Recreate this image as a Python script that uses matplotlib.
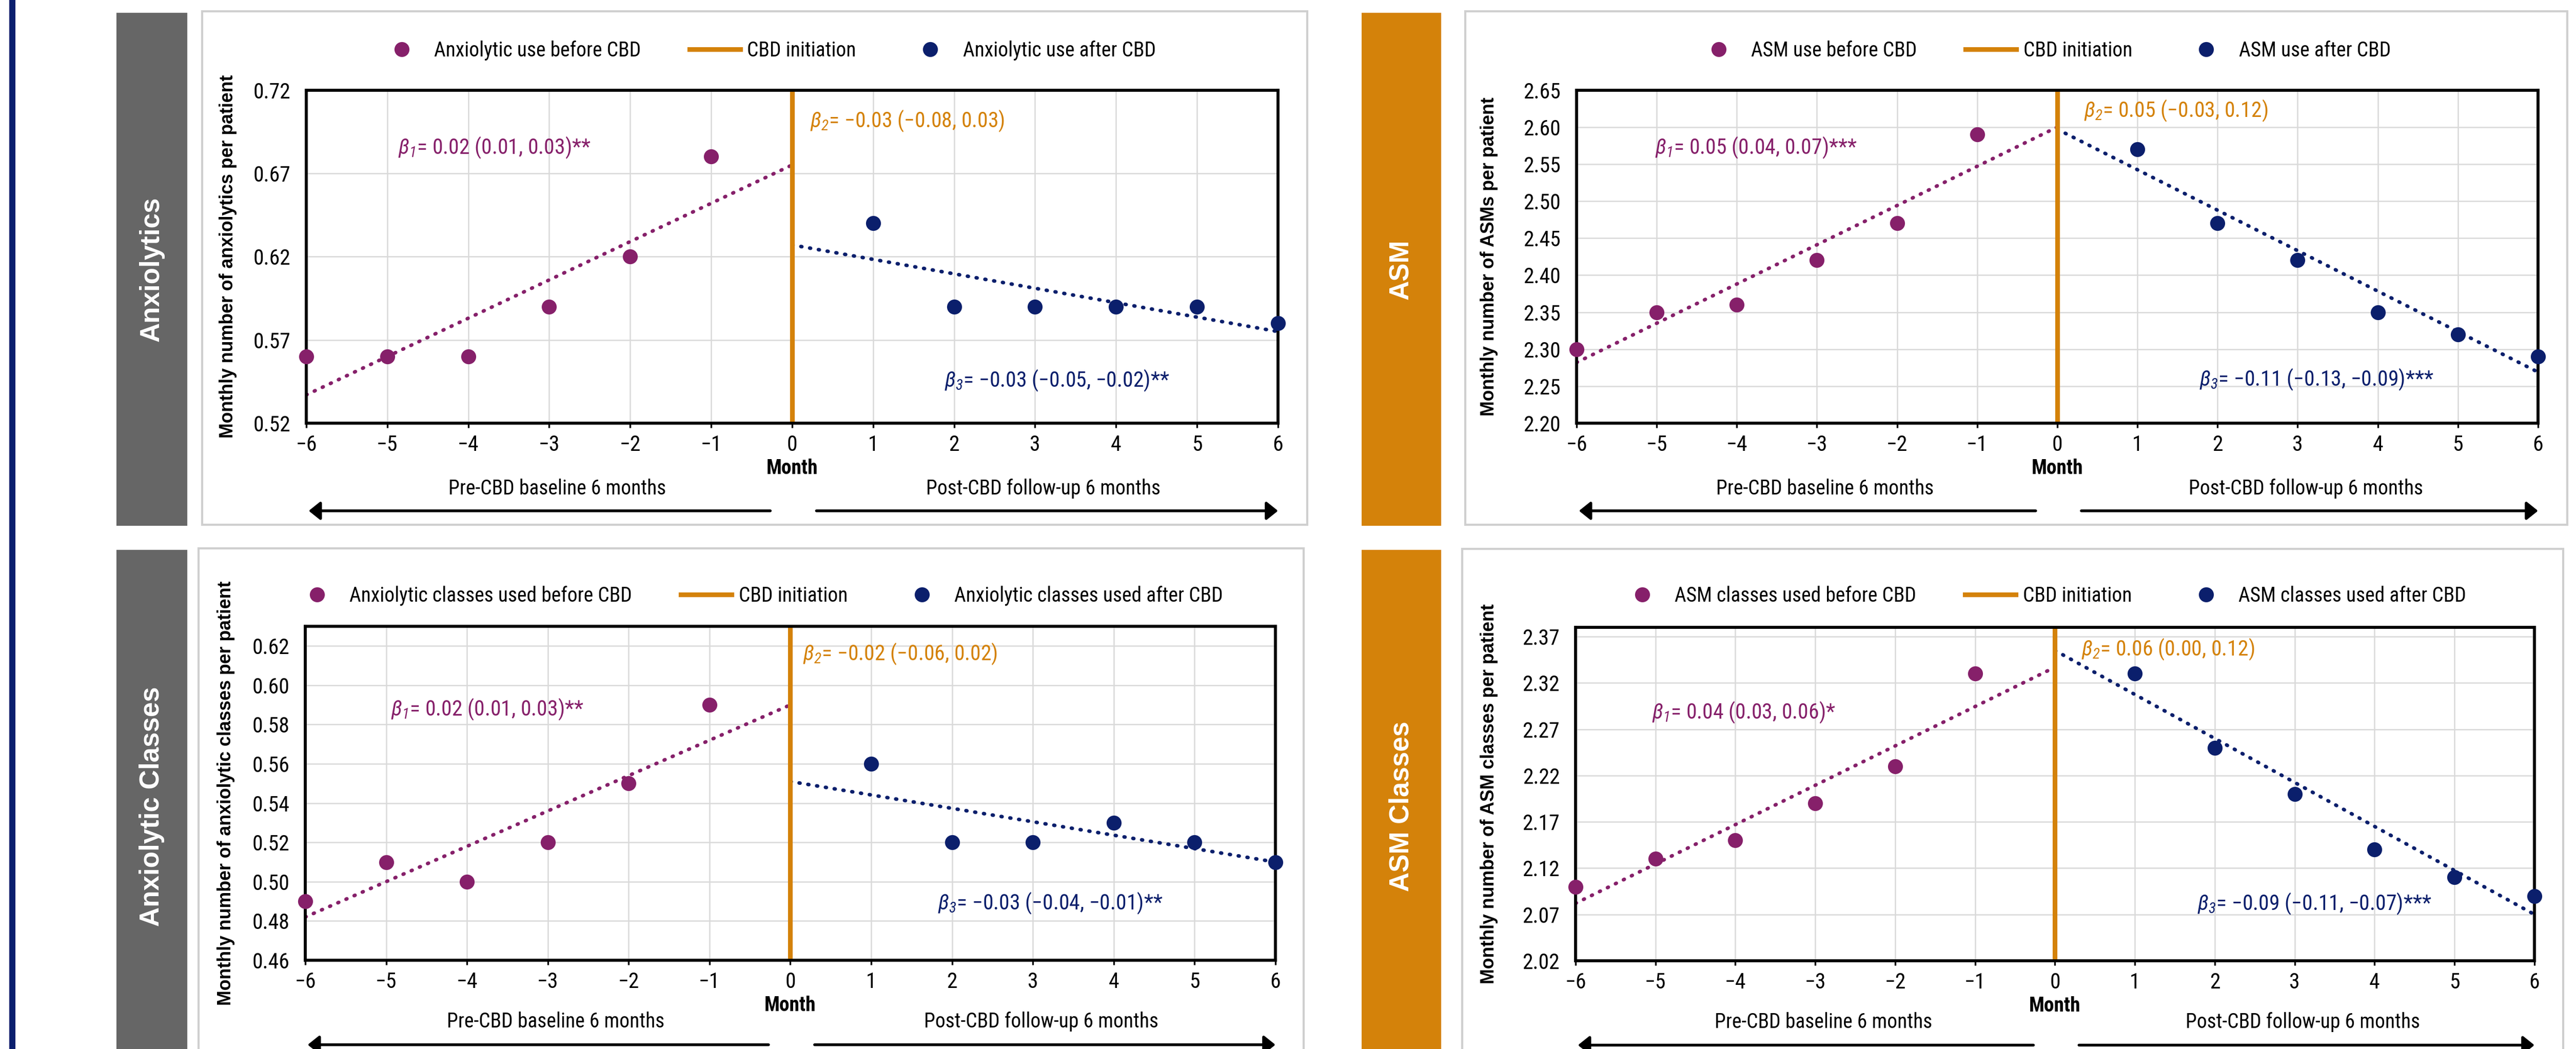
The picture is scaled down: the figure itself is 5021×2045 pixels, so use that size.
import matplotlib
matplotlib.use("Agg")
import matplotlib.pyplot as plt
from matplotlib import font_manager
from matplotlib.patches import Rectangle
from matplotlib.ticker import FormatStrFormatter

W, H = 5022, 2045
DPI = 300

# fonts: a narrow face for most text, an Arial-like bold for box titles / y labels
names = {f.name for f in font_manager.fontManager.ttflist}
NARROW, STRETCH, S = "DejaVu Sans", "condensed", 0.87
for fam, sc in [("Liberation Sans Narrow", 1.0), ("Arial Narrow", 1.0), ("Roboto Condensed", 0.93),
                ("Noto Sans Condensed", 0.92), ("Open Sans Condensed", 0.95)]:
    if fam in names:
        NARROW, STRETCH, S = fam, "normal", sc
        break
MATH_IT = NARROW + ":style=italic:stretch=" + STRETCH
WIDE = "Liberation Sans" if "Liberation Sans" in names else "DejaVu Sans"

plt.rcParams["font.family"] = NARROW
plt.rcParams["font.stretch"] = STRETCH
plt.rcParams["mathtext.fontset"] = "custom"
plt.rcParams["mathtext.it"] = MATH_IT
plt.rcParams["mathtext.rm"] = MATH_IT
plt.rcParams["axes.unicode_minus"] = True

FS_TICK = 10.8 * S
FS_TEXT = 10.2 * S
FS_BETA = 10.8 * S

PURPLE = "#86206A"
NAVY = "#0B1F6C"
ORANGE = "#D4820A"
GREY_BOX = "#666666"
GRID = "#d9d9d9"
MINUS = "\u2212"

# ---------------- data ----------------
months = [-6, -5, -4, -3, -2, -1, 0, 1, 2, 3, 4, 5, 6]
months_before = [-6, -5, -4, -3, -2, -1]
months_after = [1, 2, 3, 4, 5, 6]
trend_x_pre = [-6, 0]
trend_x_post = [0, 6]

# Anxiolytics
anx_before = [0.56, 0.56, 0.56, 0.59, 0.62, 0.68]
anx_after = [0.64, 0.59, 0.59, 0.59, 0.59, 0.58]
anx_trend_pre = [0.537, 0.675]
anx_trend_post = [0.627, 0.575]
anx_ylim = (0.52, 0.72)
anx_yticks = [0.52, 0.57, 0.62, 0.67, 0.72]

# ASM
asm_before = [2.30, 2.35, 2.36, 2.42, 2.47, 2.59]
asm_after = [2.57, 2.47, 2.42, 2.35, 2.32, 2.29]
asm_trend_pre = [2.282, 2.600]
asm_trend_post = [2.597, 2.269]
asm_ylim = (2.20, 2.65)
asm_yticks = [2.20, 2.25, 2.30, 2.35, 2.40, 2.45, 2.50, 2.55, 2.60, 2.65]

# Anxiolytic classes
anxc_before = [0.49, 0.51, 0.50, 0.52, 0.55, 0.59]
anxc_after = [0.56, 0.52, 0.52, 0.53, 0.52, 0.51]
anxc_trend_pre = [0.482, 0.590]
anxc_trend_post = [0.551, 0.510]
anxc_ylim = (0.46, 0.63)
anxc_yticks = [0.46, 0.48, 0.50, 0.52, 0.54, 0.56, 0.58, 0.60, 0.62]

# ASM classes
asmc_before = [2.10, 2.13, 2.15, 2.19, 2.23, 2.33]
asmc_after = [2.33, 2.25, 2.20, 2.14, 2.11, 2.09]
asmc_trend_pre = [2.082, 2.337]
asmc_trend_post = [2.355, 2.070]
asmc_ylim = (2.02, 2.38)
asmc_yticks = [2.02, 2.07, 2.12, 2.17, 2.22, 2.27, 2.32, 2.37]

# ---------------- layout (pixels) ----------------
panels = [
    dict(name="Anxiolytics", box_color=GREY_BOX, box=(227, 25, 365, 1025), frame=(394, 22, 2548, 1023),
         ax=(597, 175.5, 2491, 825), ylab_x=445, name_y=525,
         ylabel="Monthly number of anxiolytics per patient",
         leg=["Anxiolytic use before CBD", "CBD initiation", "Anxiolytic use after CBD"], leg_pos=(0.473, 1.119),
         before=anx_before, after=anx_after, pre=anx_trend_pre, post=anx_trend_post,
         ylim=anx_ylim, yticks=anx_yticks,
         b1=("0.02 (0.01, 0.03)**", 0.0945, 0.827),
         b2=(MINUS + "0.03 (" + MINUS + "0.08, 0.03)", 0.5185, 0.907),
         b3=(MINUS + "0.03 (" + MINUS + "0.05, " + MINUS + "0.02)**", 0.657, 0.128),
         row_y=(-0.197, -0.263)),
    dict(name="ASM", box_color=ORANGE, box=(2654, 25, 2809, 1025), frame=(2856, 22, 5004, 1023),
         ax=(3073, 175.5, 4947, 825), ylab_x=2903, name_y=525,
         ylabel="Monthly number of ASMs per patient",
         leg=["ASM use before CBD", "CBD initiation", "ASM use after CBD"], leg_pos=(0.484, 1.119),
         before=asm_before, after=asm_after, pre=asm_trend_pre, post=asm_trend_post,
         ylim=asm_ylim, yticks=asm_yticks,
         b1=("0.05 (0.04, 0.07)***", 0.0816, 0.827),
         b2=("0.05 (" + MINUS + "0.03, 0.12)", 0.528, 0.938),
         b3=(MINUS + "0.11 (" + MINUS + "0.13, " + MINUS + "0.09)***", 0.648, 0.131),
         row_y=(-0.197, -0.263)),
    dict(name="Anxiolytic Classes", box_color=GREY_BOX, box=(227, 1072, 365, 2100), frame=(387, 1069, 2541, 2100),
         ax=(595, 1221, 2486, 1872), ylab_x=441, name_y=1572,
         ylabel="Monthly number of anxiolytic classes per patient",
         leg=["Anxiolytic classes used before CBD", "CBD initiation", "Anxiolytic classes used after CBD"],
         leg_pos=(0.466, 1.092),
         before=anxc_before, after=anxc_after, pre=anxc_trend_pre, post=anxc_trend_post,
         ylim=anxc_ylim, yticks=anxc_yticks,
         b1=("0.02 (0.01, 0.03)**", 0.0883, 0.751),
         b2=(MINUS + "0.02 (" + MINUS + "0.06, 0.02)", 0.513, 0.917),
         b3=(MINUS + "0.03 (" + MINUS + "0.04, " + MINUS + "0.01)**", 0.652, 0.1705),
         row_y=(-0.184, -0.253)),
    dict(name="ASM Classes", box_color=ORANGE, box=(2654, 1072, 2809, 2100), frame=(2850, 1070, 4996, 2100),
         ax=(3071, 1223, 4940, 1873), ylab_x=2903, name_y=1572,
         ylabel="Monthly number of ASM classes per patient",
         leg=["ASM classes used before CBD", "CBD initiation", "ASM classes used after CBD"], leg_pos=(0.486, 1.095),
         before=asmc_before, after=asmc_after, pre=asmc_trend_pre, post=asmc_trend_post,
         ylim=asmc_ylim, yticks=asmc_yticks,
         b1=("0.04 (0.03, 0.06)*", 0.0797, 0.745),
         b2=("0.06 (0.00, 0.12)", 0.5276, 0.934),
         b3=(MINUS + "0.09 (" + MINUS + "0.11, " + MINUS + "0.07)***", 0.6485, 0.172),
         row_y=(-0.184, -0.253)),
]


def fx(x):
    return x / W


def fy(y):
    return 1 - y / H


def fig_rect(fig, l, t, r, b, **kw):
    fig.add_artist(Rectangle((fx(l), fy(b)), (r - l) / W, (b - t) / H, transform=fig.transFigure, **kw))


fig = plt.figure(figsize=(W / DPI, H / DPI), dpi=DPI)
fig.patch.set_facecolor("white")

# navy rule on the far left
fig_rect(fig, 18, -10, 30, H + 10, facecolor="#0A1F6E", edgecolor="none")

for p in panels:
    fig_rect(fig, *p["frame"], facecolor="none", edgecolor="#cfcfcf", lw=1.0)
    fig_rect(fig, *p["box"], facecolor=p["box_color"], edgecolor="none")
    bl, bt, br, bb = p["box"]
    fig.text(fx((bl + br) / 2), fy(p["name_y"]), p["name"], rotation=90, ha="center", va="center",
             color="white", fontsize=12.7, fontweight="bold", family=WIDE, stretch="normal")

    l, t, r, b = p["ax"]
    ax = fig.add_axes([fx(l), fy(b), (r - l) / W, (b - t) / H])
    fig.text(fx(p["ylab_x"]), fy((t + b) / 2), p["ylabel"], rotation=90, ha="center", va="center",
             fontsize=8.6, fontweight="bold", family=WIDE, stretch="normal")

    # fitted segments, drawn as round dots
    ax.plot(trend_x_pre, p["pre"], color=PURPLE, lw=1.7, dashes=(0.25, 2.2), dash_capstyle="round", zorder=2)
    ax.plot(trend_x_post, p["post"], color=NAVY, lw=1.7, dashes=(0.25, 2.2), dash_capstyle="round", zorder=2)
    vline = ax.axvline(0, color=ORANGE, lw=2.2, zorder=2.2)
    h1, = ax.plot(months_before, p["before"], "o", color=PURPLE, ms=7.0, mew=0, clip_on=False, zorder=4)
    h3, = ax.plot(months_after, p["after"], "o", color=NAVY, ms=7.0, mew=0, clip_on=False, zorder=4)

    ax.set_xlim(-6, 6)
    ax.set_ylim(*p["ylim"])
    ax.set_xticks(months)
    ax.set_yticks(p["yticks"])
    ax.yaxis.set_major_formatter(FormatStrFormatter("%.2f"))
    ax.grid(True, color=GRID, lw=0.6)
    ax.set_axisbelow(True)
    for s in ax.spines.values():
        s.set_linewidth(1.4)
        s.set_color("black")
    ax.tick_params(axis="x", length=2.2, width=0.8, pad=3.0, labelsize=FS_TICK)
    ax.tick_params(axis="y", length=0, pad=7.4, labelsize=FS_TICK)

    ax.legend([h1, vline, h3], p["leg"], loc="center", bbox_to_anchor=p["leg_pos"], ncol=3,
              frameon=False, fontsize=FS_TEXT, handlelength=2.5, handletextpad=0.35,
              columnspacing=2.4, borderpad=0)

    txt, bx, by = p["b1"]
    ax.text(bx, by, r"$\beta_1$= " + txt, transform=ax.transAxes, color=PURPLE, fontsize=FS_BETA,
            ha="left", va="center")
    txt, bx, by = p["b2"]
    ax.text(bx, by, r"$\beta_2$= " + txt, transform=ax.transAxes, color=ORANGE, fontsize=FS_BETA,
            ha="left", va="center")
    txt, bx, by = p["b3"]
    ax.text(bx, by, r"$\beta_3$= " + txt, transform=ax.transAxes, color=NAVY, fontsize=FS_BETA,
            ha="left", va="center")

    trans = ax.get_xaxis_transform()
    ax.text(0, -0.135, "Month", transform=trans, ha="center", va="center", fontsize=FS_TEXT, fontweight="bold")
    lab_y, arr_y = p["row_y"]
    ax.text(-2.9, lab_y, "Pre-CBD baseline 6 months", transform=trans, ha="center", va="center",
            fontsize=FS_TEXT)
    ax.text(3.1, lab_y, "Post-CBD follow-up 6 months", transform=trans, ha="center", va="center",
            fontsize=FS_TEXT)
    arrow = dict(arrowstyle="-|>,head_length=0.45,head_width=0.36", lw=1.3, color="black",
                 shrinkA=0, shrinkB=0)
    ax.annotate("", xy=(-5.97, arr_y), xytext=(-0.27, arr_y), xycoords=trans, textcoords=trans,
                arrowprops=arrow, annotation_clip=False)
    ax.annotate("", xy=(6.0, arr_y), xytext=(0.3, arr_y), xycoords=trans, textcoords=trans,
                arrowprops=arrow, annotation_clip=False)

fig.savefig("out.png", dpi=DPI)
